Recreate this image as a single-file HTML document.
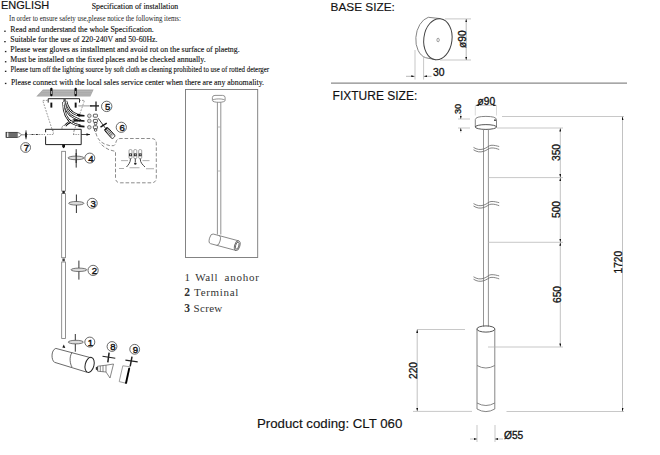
<!DOCTYPE html>
<html><head><meta charset="utf-8">
<style>
html,body{margin:0;padding:0;background:#fff;width:660px;height:455px;overflow:hidden}
svg{display:block;position:absolute;left:0;top:0}
.se{font-family:"Liberation Serif",serif;fill:#111}
.sa{font-family:"Liberation Sans",sans-serif;fill:#111}
.mo{font-family:"Liberation Mono",monospace;fill:#222}
.dn{font-family:"Liberation Sans",sans-serif;fill:#111;stroke:#111;stroke-width:0.3}
</style></head><body>
<svg width="660" height="455" viewBox="0 0 660 455">
<defs>
<marker id="ah" viewBox="0 0 10 6" refX="10" refY="3" markerWidth="3.6" markerHeight="2" orient="auto-start-reverse" markerUnits="userSpaceOnUse">
<path d="M0,0 L10,3 L0,6 z" fill="#111"/>
</marker>
</defs>

<!-- ============ TOP LEFT TEXT ============ -->
<text class="sa" x="1" y="9.1" font-size="11" stroke="#111" stroke-width="0.15">ENGLISH</text>
<g class="se" stroke="#111" stroke-width="0.12">
<text x="91.7" y="9.1" font-size="7.84">Specification of installation</text>
<text x="9.1" y="20.8" font-size="7.3" textLength="171.8" lengthAdjust="spacingAndGlyphs" style="stroke:none;fill:#222">In order to ensure safety use,please notice the following items:</text>
<g font-size="7.84">
<text x="10.3" y="31.9">Read and understand the whole Specification.</text>
<text x="10.3" y="42.4">Suitable for the use of 220-240V and 50-60Hz.</text>
<text x="10.3" y="52">Please wear gloves as installment and avoid rot on the surface of plaetng.</text>
<text x="10.3" y="62.4">Must be installed on the fixed places and be checked annually.</text>
<text x="10.5" y="72.2" font-size="7.4" textLength="258.6" lengthAdjust="spacingAndGlyphs">Please turn off the lighting source by soft cloth as cleaning prohibited to use of rotted deterger</text>
<text x="10.9" y="85">Please connect with the local sales service center when there are any abnomality.</text>
</g>
</g>
<g fill="#222">
<rect x="4.2" y="30.6" width="1.5" height="1.3"/>
<rect x="4.2" y="41" width="1.5" height="1.3"/>
<rect x="4.9" y="50.9" width="1.5" height="1.3"/>
<rect x="4.9" y="61.1" width="1.5" height="1.3"/>
<rect x="4.9" y="70.7" width="1.5" height="1.3"/>
<rect x="4.9" y="82.8" width="1.5" height="1.3"/>
</g>

<!-- ============ RIGHT: BASE SIZE ============ -->
<text class="sa" x="330.6" y="11.2" font-size="11.8" stroke="#111" stroke-width="0.15">BASE SIZE:</text>
<text class="sa" x="332.6" y="99.6" font-size="12" stroke="#111" stroke-width="0.15">FIXTURE SIZE:</text>
<line x1="331" y1="83.2" x2="627" y2="83.2" stroke="#8a8a8a" stroke-width="1.3"/>

<g fill="none" stroke="#555" stroke-width="0.9">
  <path d="M428.3,17.3 A14.2,20.8 7 0 0 425.6,57.7" stroke="#777"/>
  <line x1="428.3" y1="17.3" x2="440.3" y2="18.6" stroke="#777"/>
  <line x1="425.6" y1="57.7" x2="435.6" y2="59.7" stroke="#777"/>
  <ellipse cx="437.9" cy="39.2" rx="14.1" ry="20.6" transform="rotate(7 437.9 39.2)" stroke="#444" stroke-width="1"/>
  <ellipse cx="438.1" cy="40" rx="1.2" ry="1.8" stroke="#777" stroke-width="0.7"/>
</g>
<g stroke="#b0b0b0" stroke-width="0.7" fill="none">
  <line x1="445" y1="18.9" x2="471" y2="18.9"/>
  <line x1="440" y1="60" x2="471" y2="60"/>
  <line x1="415" y1="50" x2="415" y2="79.6"/>
  <line x1="423.6" y1="57" x2="423.6" y2="79.6"/>
</g>
<g stroke="#888" stroke-width="0.6">
  <line x1="466.2" y1="19" x2="466.2" y2="60" marker-start="url(#ah)" marker-end="url(#ah)"/>
  <line x1="406" y1="76.3" x2="414.6" y2="76.3" marker-end="url(#ah)"/>
  <line x1="431.5" y1="76.3" x2="423.8" y2="76.3" marker-end="url(#ah)"/>
</g>
<text class="dn" font-size="10.2" transform="translate(465.6,48) rotate(-90)">ø90</text>
<text class="dn" x="433" y="75.8" font-size="10.4">30</text>

<!-- ============ RIGHT: FIXTURE ============ -->
<g fill="none" stroke="#555" stroke-width="0.9">
  <path d="M475.3,127 L475.3,119.6 Q475.5,116.4 485.9,116.4 Q496.3,116.4 496.5,119.6 L496.5,127" stroke="#777"/>
  <ellipse cx="485.9" cy="127" rx="10.7" ry="2.4" stroke="#444"/>
  <line x1="483.5" y1="129.4" x2="483.5" y2="326.4" stroke="#888"/>
  <circle cx="495" cy="120.2" r="0.9" fill="#333" stroke="none"/>
  <line x1="488.4" y1="129.4" x2="488.4" y2="326.4" stroke="#888"/>
  <ellipse cx="485.9" cy="329" rx="9" ry="3.1" stroke="#444"/>
  <line x1="477" y1="329" x2="477" y2="409" stroke="#777"/>
  <line x1="494.8" y1="329" x2="494.8" y2="409" stroke="#777"/>
  <path d="M477,365.5 Q485.9,370.5 494.8,365.5" stroke="#777"/>
  <path d="M477,403 Q485.9,408 494.8,403" stroke="#777"/>
  <path d="M477,409 Q485.9,414.2 494.8,409" stroke="#777"/>
</g>
<g fill="none" stroke="#666" stroke-width="0.8">
  <path d="M473.5,147.4 C477,149.6 480,150 483.5,149 S489,145.3 491,145.3 C494,145 497,146 499.2,146.5"/>
  <path d="M473.5,149.8 C477,152 480,152.4 483.5,151.4 S489,148 491,148 C494,147.7 497,148.7 499.2,149.5"/>
  <path d="M473.5,203.6 C477,205.8 480,206.2 483.5,205.2 S489,201.5 491,201.5 C494,201.2 497,202.2 499.2,202.7"/>
  <path d="M473.5,206 C477,208.2 480,208.6 483.5,207.6 S489,204.2 491,204.2 C494,203.9 497,204.9 499.2,205.7"/>
  <path d="M473.5,276.8 C477,279 480,279.4 483.5,278.4 S489,274.7 491,274.7 C494,274.4 497,275.4 499.2,275.9"/>
  <path d="M473.5,279.2 C477,281.4 480,281.8 483.5,280.8 S489,277.4 491,277.4 C494,277.1 497,278.1 499.2,278.9"/>
</g>
<g stroke="#b0b0b0" stroke-width="0.7" fill="none">
  <line x1="502" y1="116.5" x2="624" y2="116.5"/>
  <line x1="497" y1="128" x2="563" y2="128"/>
  <line x1="488" y1="177.6" x2="563" y2="177.6"/>
  <line x1="488" y1="242.3" x2="563" y2="242.3"/>
  <line x1="488" y1="347" x2="563" y2="347"/>
  <line x1="417" y1="329.5" x2="465" y2="329.5"/>
  <line x1="413" y1="411.4" x2="472" y2="411.4"/>
  <line x1="506.5" y1="411.5" x2="624" y2="411.5"/>
  <line x1="475.3" y1="106" x2="475.3" y2="115.5" stroke="#ccc"/>
  <line x1="496.5" y1="106" x2="496.5" y2="115.5" stroke="#ccc"/>
  <line x1="458" y1="119" x2="470" y2="119"/>
  <line x1="458" y1="128" x2="470" y2="128"/>
  <line x1="477" y1="425" x2="477" y2="442"/>
  <line x1="495" y1="425" x2="495" y2="442"/>
</g>
<g stroke="#999" stroke-width="0.6">
  <line x1="560.3" y1="128.2" x2="560.3" y2="177.4" marker-start="url(#ah)" marker-end="url(#ah)"/>
  <line x1="560.3" y1="177.8" x2="560.3" y2="242.1" marker-start="url(#ah)" marker-end="url(#ah)"/>
  <line x1="560.3" y1="242.5" x2="560.3" y2="346.8" marker-start="url(#ah)" marker-end="url(#ah)"/>
  <line x1="622.5" y1="116.6" x2="622.5" y2="411.4" marker-start="url(#ah)" marker-end="url(#ah)"/>
  <line x1="417.2" y1="329.6" x2="417.2" y2="411.1" marker-start="url(#ah)" marker-end="url(#ah)"/>
  <line x1="460.8" y1="114" x2="460.8" y2="119" marker-end="url(#ah)"/>
  <line x1="460.8" y1="132.5" x2="460.8" y2="128" marker-end="url(#ah)"/>
  <line x1="470" y1="439" x2="477" y2="439" marker-end="url(#ah)"/>
  <line x1="503" y1="439" x2="495" y2="439" marker-end="url(#ah)"/>
  <line x1="475.5" y1="105.3" x2="496.5" y2="105.3" marker-start="url(#ah)" marker-end="url(#ah)"/>
</g>
<g class="dn" font-size="10.2">
  <text x="477.5" y="104.5">ø90</text>
  <text transform="translate(460.6,114) rotate(-90)" font-size="9.2">30</text>
  <text transform="translate(560,161) rotate(-90)">350</text>
  <text transform="translate(560,218) rotate(-90)">500</text>
  <text transform="translate(560.5,303) rotate(-90)">650</text>
  <text transform="translate(622,273.5) rotate(-90)">1720</text>
  <text transform="translate(417,379) rotate(-90)">220</text>
  <text x="504" y="438.7">Ø55</text>
</g>

<text class="sa" x="257" y="427.5" font-size="13.25" stroke="#111" stroke-width="0.15">Product coding: CLT 060</text>

<!-- ============ MIDDLE BOX ============ -->
<rect x="185.5" y="89.5" width="72.2" height="168" fill="none" stroke="#777" stroke-width="0.9"/>
<g fill="none" stroke="#777" stroke-width="0.8">
  <path d="M212.4,100 L212.4,97.5 Q212.4,95.4 215,95.4 L222.5,95.4 Q225.1,95.4 225.1,97.5 L225.1,100"/>
  <ellipse cx="218.75" cy="100.6" rx="6.35" ry="1.7"/>
  <line x1="217.4" y1="102.3" x2="217.4" y2="234.5"/>
  <line x1="220.8" y1="102.3" x2="220.8" y2="234.5"/>
  <path d="M217.4,127 h3.4 M217.4,171 h3.4" stroke="#aaa"/>
  <g transform="translate(224,242.1) rotate(15)">
    <path d="M-12.6,-5 L13.7,-5 M-12.6,5 L13.7,5"/>
    <path d="M-12.6,-5 A2.4,5 0 0 0 -12.6,5"/>
    <path d="M-6.3,-5 A2.2,5 0 0 1 -6.3,5"/>
    <ellipse cx="13.7" cy="0" rx="2.6" ry="5" stroke="#555"/>
    <ellipse cx="13.7" cy="0" rx="1.6" ry="3.6" stroke="#555"/>
  </g>
</g>

<g class="se" font-size="11" style="fill:#333">
  <text x="184.6" y="280.6">1</text>
  <text x="195.2" y="280.6" textLength="22.3" lengthAdjust="spacing">Wall</text>
  <text x="224.6" y="280.6" textLength="34.2" lengthAdjust="spacing">anohor</text>
  <text x="184.3" y="296.3" font-weight="bold" font-size="11.5">2</text>
  <text x="194" y="296.1" textLength="44.3" lengthAdjust="spacing">Terminal</text>
  <text x="184.3" y="311.7" font-weight="bold" font-size="11.5">3</text>
  <text x="193.5" y="311.5" textLength="28.8" lengthAdjust="spacing">Screw</text>
</g>

<!-- ============ LEFT INSTALLATION DIAGRAM ============ -->
<!-- ceiling -->
<path d="M42.9,89.5 L93.6,89.5 L90.4,96.6 L36.3,96.6 Z" fill="#a6a6a6"/>
<g stroke="#c4c4c4" stroke-width="0.6">
  <path d="M42,91.3 H92.6 M40.5,93.2 H91.8 M39,95 H91"/>
</g>
<!-- bracket -->
<path d="M48.2,102.6 L48.2,98.7 L79.5,98.7 L79.5,102.6" fill="none" stroke="#222" stroke-width="1"/>
<!-- screws -->
<g fill="#111">
  <rect x="50.2" y="87.7" width="2.3" height="8.5" rx="1"/>
  <rect x="74.5" y="87.7" width="2.3" height="8.5" rx="1"/>
  <rect x="50.4" y="102.6" width="1.9" height="5"/>
  <rect x="74.7" y="102.6" width="1.9" height="5"/>
</g>
<g fill="#ccc"><rect x="50.9" y="91" width="0.9" height="3"/><rect x="75.2" y="91" width="0.9" height="3"/></g>
<!-- dashed trapezoid -->
<g fill="none" stroke="#555" stroke-width="0.6" stroke-dasharray="1.8,1.2">
  <path d="M47.6,100.4 L42.7,100.4 L52.6,131"/>
  <path d="M79,100.4 L84.5,100.4 L74,131"/>
</g>
<!-- wire base -->
<rect x="63.4" y="98.7" width="2.4" height="4.5" fill="#555"/>
<!-- wires (tubes) -->
<g fill="none" stroke-linecap="butt">
  <g stroke="#111" stroke-width="2.3">
    <path d="M66,101 C67.5,108 71,112.8 77,114.6 L80,115.3"/>
    <path d="M64.6,101.5 C65,109 68.5,115 74,117.4 C76.5,118.4 78.5,119.4 80.5,120.3"/>
    <path d="M63.4,102 C63.4,111.5 66.5,119.5 72.5,123 C75,124.4 77.5,125.2 80.5,125.7"/>
    <path d="M65.2,125.8 C67,123.3 69.5,121.5 73.5,120.5 L80,120.1"/>
  </g>
  <g stroke="#fff" stroke-width="1">
    <path d="M66,101 C67.5,108 71,112.8 77,114.6"/>
    <path d="M64.6,101.5 C65,109 68.5,115 74,117.4 C76.5,118.4 78.5,119.4 80.5,120.3"/>
    <path d="M63.4,102 C63.4,111.5 66.5,119.5 72.5,123 C75,124.4 77.5,125.2 80.5,125.7"/>
    <path d="M65.2,125.8 C67,123.3 69.5,121.5 73.5,120.5"/>
  </g>
</g>
<path d="M62,129 C61.5,126.5 63,125 65,125.4" fill="none" stroke="#666" stroke-width="0.6"/>
<g fill="#111">
  <path d="M78.5,114.3 L84.5,115 L84.5,116.6 L78.5,116.6Z"/>
  <path d="M78.5,119.5 L84.5,120.2 L84.5,121.8 L78.5,121.6Z"/>
  <path d="M78.5,125 L84.5,125.8 L84.5,127.4 L78.5,127.1Z"/>
  <path d="M66.5,124.2 L70.5,121.8 L71,123 L67,125Z"/>
</g>
<!-- terminal circles & blocks -->
<g fill="#ddd" stroke="#555" stroke-width="0.7">
  <circle cx="89.3" cy="115.8" r="1.8"/>
  <circle cx="89.3" cy="120.9" r="1.8"/>
  <circle cx="89.3" cy="127.3" r="1.8"/>
</g>
<g fill="none" stroke="#333" stroke-width="0.8">
  <rect x="93.4" y="114.2" width="4" height="3" rx="0.6"/>
  <rect x="93.4" y="119.4" width="4" height="3" rx="0.6"/>
  <rect x="93.4" y="125.8" width="4" height="3" rx="0.6"/>
  <circle cx="95.6" cy="123.6" r="1.3"/>
  <circle cx="95.6" cy="130" r="1.3"/>
</g>
<!-- screwdriver 6 -->
<line x1="98.1" y1="118.2" x2="105.5" y2="128.3" stroke="#222" stroke-width="0.9"/>
<line x1="100.5" y1="127.1" x2="106.7" y2="123.1" stroke="#111" stroke-width="1.4"/>
<g transform="translate(109.8,133) rotate(48)">
  <rect x="-6" y="-2.2" width="12" height="4.4" rx="1.4" fill="#c8c8c8" stroke="#111" stroke-width="0.9"/>
  <path d="M-3.4,-1.8 V1.8 M-1.6,-1.8 V1.8 M0.2,-1.8 V1.8 M2,-1.8 V1.8" stroke="#444" stroke-width="0.7"/>
  <rect x="4.2" y="-1.6" width="1.4" height="3.2" fill="#fff"/>
  <rect x="-6.3" y="-1.6" width="1.6" height="3.2" fill="#111"/>
</g>
<!-- canopy box -->
<g fill="none" stroke="#222" stroke-width="1">
  <path d="M45.6,132.3 L45.6,129.3 L81.2,129.3 L81.2,144.6 L45.6,144.6 L45.6,136.4"/>
</g>
<g fill="none" stroke="#555" stroke-width="0.6" stroke-dasharray="1.4,1">
  <path d="M47,134.5 L53.5,134.5 L53,129.8"/>
  <path d="M73,134.5 L80,134.5 M73.6,134.5 L74.1,129.8"/>
  <path d="M27,134.5 L45,134.5"/>
</g>
<line x1="81.2" y1="134.5" x2="90" y2="134.5" stroke="#222" stroke-width="0.8"/>
<path d="M86.5,133.3 L90.2,134.5 L86.5,135.7Z" fill="#111"/>
<path d="M31.5,133.9 L35,134.5 L31.5,135.1Z M36,133.9 L39.5,134.5 L36,135.1Z" fill="#111"/>
<!-- screwdriver 7 -->
<rect x="6" y="132.3" width="11.6" height="5.1" fill="#6e6e6e" stroke="#222" stroke-width="0.7"/>
<path d="M7.7,132.6 V137.1" stroke="#eee" stroke-width="1.3"/>
<path d="M9,133.6 H17 M9,135 H17 M9,136.3 H17" stroke="#6a6a6a" stroke-width="0.5"/>
<path d="M17.6,132.5 L19.8,133.2 L21.4,134.8 L19.8,136.5 L17.6,137.3" fill="#fff" stroke="#333" stroke-width="0.7"/>
<line x1="21.4" y1="134.8" x2="26" y2="134.8" stroke="#555" stroke-width="0.7"/>
<path d="M26,130.4 L26,139.3" stroke="#222" stroke-width="0.9"/>
<path d="M25.1,133 Q26,131.5 26.9,133 L26.9,137 Q26,138.5 25.1,137Z" fill="#222"/>
<!-- knob under canopy -->
<path d="M62.2,144.6 L65,144.6 L65,146.5 Q63.6,150 62.2,146.5 Z" fill="#111"/>
<!-- rod segments -->
<g fill="none" stroke="#777" stroke-width="0.8">
  <rect x="61.7" y="151.3" width="3.8" height="39.7"/>
  <rect x="61.7" y="193.6" width="3.8" height="64.1"/>
  <rect x="61.7" y="262" width="3.8" height="76.4"/>
</g>
<rect x="62.4" y="191" width="2.4" height="2.5" fill="#222"/>
<rect x="62.4" y="258.5" width="2.4" height="2.8" fill="#444"/>
<!-- markers (screws + washers) -->
<g>
  <path d="M76.2,149.2 L76.2,167.6" stroke="#333" stroke-width="1"/>
  <ellipse cx="76" cy="157.9" rx="8" ry="1.8" fill="#dcdcdc" stroke="#444" stroke-width="0.7"/>
  <path d="M76.4,194.5 L76.4,213" stroke="#333" stroke-width="1"/>
  <ellipse cx="76.3" cy="203.3" rx="7.6" ry="1.8" fill="#dcdcdc" stroke="#444" stroke-width="0.7"/>
  <path d="M78.9,260.6 L78.9,279.6" stroke="#333" stroke-width="1"/>
  <ellipse cx="78.9" cy="269.8" rx="7.9" ry="1.7" fill="#dcdcdc" stroke="#444" stroke-width="0.7"/>
  <path d="M75.3,334 L75.3,351.7" stroke="#333" stroke-width="1"/>
  <ellipse cx="75.8" cy="342.1" rx="7.6" ry="1.8" fill="#dcdcdc" stroke="#444" stroke-width="0.7"/>
</g>
<g fill="none" stroke="#333" stroke-width="0.9">
  <line x1="76.2" y1="153" x2="76.2" y2="163" stroke-width="1.2"/>
  <!-- marker 5 -->
  <line x1="78.4" y1="105.9" x2="92" y2="105.9" stroke="#999" stroke-width="1"/>
  <line x1="90" y1="105.9" x2="99" y2="105.9" stroke="#222" stroke-width="1.4"/>
  <line x1="96" y1="101.5" x2="96" y2="111" stroke="#222" stroke-width="1.3"/>
  <!-- marker 8 -->
  <line x1="102.5" y1="356.2" x2="115.3" y2="358.3" stroke="#222" stroke-width="1.1"/>
  <line x1="109.1" y1="352.6" x2="107.8" y2="362.3" stroke="#222" stroke-width="1.5"/>
  <!-- marker 9 -->
  <line x1="125.4" y1="360.1" x2="137.7" y2="361.9" stroke="#222" stroke-width="1.1"/>
  <line x1="132" y1="356.6" x2="130.2" y2="366.3" stroke="#222" stroke-width="1.5"/>
</g>
<!-- circled numbers -->
<g fill="#fff" stroke="#444" stroke-width="0.8">
  <circle cx="106.7" cy="106.4" r="5.2"/>
  <circle cx="121.3" cy="127.3" r="5.1"/>
  <circle cx="25.6" cy="147.5" r="4.9"/>
  <circle cx="89.8" cy="158.1" r="5"/>
  <circle cx="92.2" cy="203.3" r="5"/>
  <circle cx="93.1" cy="270.4" r="5.1"/>
  <circle cx="89.8" cy="342.1" r="5"/>
  <circle cx="112" cy="346.5" r="4.9"/>
  <circle cx="134.7" cy="349.3" r="4.9"/>
</g>
<g class="dn" font-size="9.6" text-anchor="middle" style="stroke-width:0.4">
  <text x="107.7" y="109.9">5</text>
  <text x="122.2" y="130.8">6</text>
  <text x="26.5" y="151">7</text>
  <text x="90.9" y="161.5">4</text>
  <text x="93.1" y="206.8">3</text>
  <text x="94.3" y="273.9">2</text>
  <text x="90.5" y="345.6">1</text>
  <text x="112.8" y="349.9">8</text>
  <text x="135.4" y="352.9">9</text>
</g>
<!-- lamp exploded -->
<g fill="none" stroke="#444" stroke-width="0.8">
  <path d="M55.8,348.4 L90.7,357.7"/>
  <path d="M54.5,362.3 L86.8,372.2"/>
  <path d="M55.8,348.4 C51,350 51,360 54.5,362.3"/>
  <path d="M72,352.5 C69,357 70,364 72,367"/>
  <ellipse cx="89.6" cy="364.9" rx="4.4" ry="7.7" transform="rotate(14 89.6 364.9)" stroke="#222" stroke-width="1"/>
</g>
<path d="M62.3,347.6 L63.8,344.6 L65.3,347.9 Z" fill="#111"/>
<!-- bulb 8 -->
<g fill="none" stroke="#555" stroke-width="0.7">
  <path d="M97.7,366.2 L106,365.2 L113.5,364 L110,378 L106,372 L97.7,371.2 Z"/>
  <path d="M100.3,365.9 V371.6 M103,365.6 V371.8 M106,365.2 V372"/>
</g>
<path d="M95.8,367.3 L97.8,366.4 L97.8,370.8 L95.8,369.6Z" fill="#333"/>
<!-- lens 9 -->
<path d="M122.8,365.8 L129.8,366.7 L126.7,383.4 L119.2,381.6 Z" fill="#fff" stroke="#777" stroke-width="0.7"/>
<line x1="129.3" y1="368" x2="125.8" y2="383.6" stroke="#000" stroke-width="1.8"/>
<!-- dashed callout lines -->
<g fill="none" stroke="#666" stroke-width="0.75" stroke-dasharray="3.6,1.9">
  <path d="M95.8,133 C97.3,139 101,143 106.2,144.6 L110.4,145.8 L113.5,145.6 C115.3,145.2 115.6,143.5 116,142 C116.6,139.8 117.8,138.5 121,138.5 L151.3,138.5 Q156.3,138.5 156.3,143.5 L156.3,177.8 Q156.3,182.8 151.3,182.8 L120.5,182.8 Q115.5,182.8 115.5,177.8 L115.5,151.6 L114.6,151.2 L109.2,149.8 C105.5,148 102.5,146 99.5,142.6"/>
</g>
<!-- callout interior terminals -->
<g fill="none" stroke="#666" stroke-width="0.6">
  <rect x="129" y="149.6" width="3" height="9" rx="1.1"/>
  <rect x="133.8" y="149.6" width="3" height="9" rx="1.1"/>
  <rect x="138.7" y="149.6" width="3" height="9" rx="1.1"/>
</g>
<g fill="#222">
  <rect x="129.1" y="153.4" width="2.8" height="2.8"/>
  <rect x="133.9" y="153.4" width="2.8" height="2.8"/>
  <rect x="138.8" y="153.4" width="2.8" height="2.8"/>
  <circle cx="135.3" cy="163.6" r="1.2"/>
</g>
<g fill="#fff"><rect x="130" y="154.3" width="1" height="1"/><rect x="134.8" y="154.3" width="1" height="1"/><rect x="139.7" y="154.3" width="1" height="1"/></g>
<g fill="none" stroke="#333" stroke-width="0.9">
  <path d="M130.5,158.6 C130.5,163 128,165 126.5,167"/>
  <path d="M135.3,158.6 L135.3,162"/>
  <path d="M140.2,158.6 C140.2,163 143,165 145,167"/>
</g>
<g fill="#999">
  <rect x="121" y="160.3" width="7" height="0.8"/>
  <rect x="142.5" y="160.3" width="7" height="0.8"/>
  <rect x="119" y="168" width="5" height="0.8"/>
  <rect x="129.5" y="167.4" width="10" height="0.8"/>
  <rect x="146" y="168.4" width="8" height="0.8"/>
</g>

</svg>
</body></html>
